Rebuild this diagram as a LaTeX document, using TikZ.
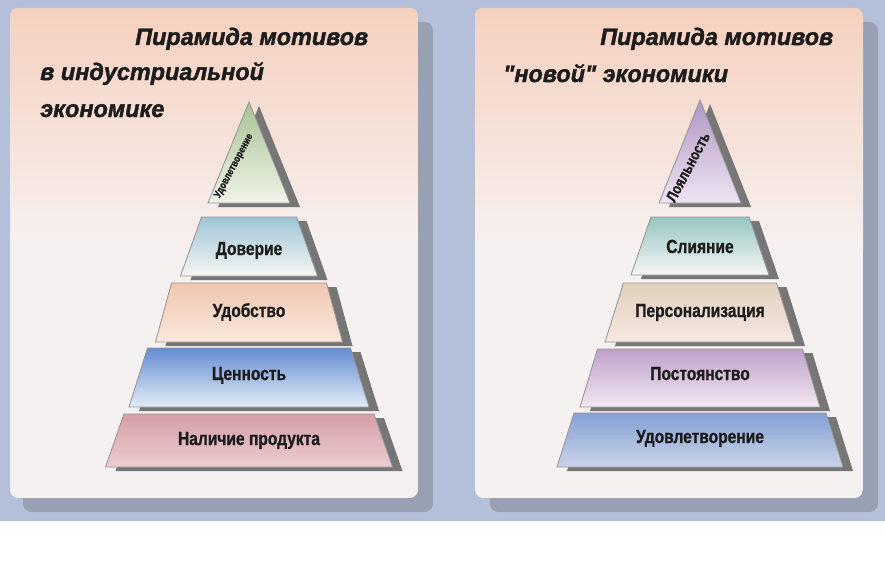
\documentclass[tikz,border=0pt]{standalone}
\usepackage{fontspec}
\newfontfamily\titlefont[FakeStretch=0.98, FakeBold=1.6]{Liberation Sans}
\newfontfamily\tierfont[FakeStretch=0.82, FakeBold=1]{Liberation Sans}
\usepackage{tikz}
\usetikzlibrary{calc}
\definecolor{PageBlue}{RGB}{180, 192, 218}
\definecolor{PanelShade}{RGB}{152, 160, 180}
\definecolor{PanelPeach}{RGB}{246, 208, 190}
\definecolor{PanelMid}{RGB}{248, 228, 218}
\definecolor{PanelWhite}{RGB}{246, 241, 241}
\definecolor{TierShade}{RGB}{118, 118, 118}
\definecolor{TierEdge}{RGB}{150, 150, 150}
\definecolor{Ink}{RGB}{28, 28, 28}
\definecolor{GreenTop}{RGB}{168, 194, 148}
\definecolor{GreenLow}{RGB}{240, 243, 232}
\definecolor{AquaTop}{RGB}{158, 198, 214}
\definecolor{AquaLow}{RGB}{246, 246, 242}
\definecolor{PeachTop}{RGB}{240, 198, 176}
\definecolor{PeachLow}{RGB}{249, 232, 222}
\definecolor{BlueTop}{RGB}{100, 140, 210}
\definecolor{BlueLow}{RGB}{226, 236, 246}
\definecolor{RoseTop}{RGB}{214, 158, 168}
\definecolor{RoseLow}{RGB}{236, 204, 208}
\definecolor{LilacTop}{RGB}{176, 150, 196}
\definecolor{LilacLow}{RGB}{238, 228, 242}
\definecolor{TealTop}{RGB}{150, 198, 192}
\definecolor{TealLow}{RGB}{246, 246, 246}
\definecolor{SandTop}{RGB}{224, 208, 188}
\definecolor{SandLow}{RGB}{246, 232, 226}
\definecolor{PlumTop}{RGB}{190, 160, 200}
\definecolor{PlumLow}{RGB}{242, 232, 242}
\definecolor{SkyTop}{RGB}{132, 160, 214}
\definecolor{SkyLow}{RGB}{202, 212, 232}
\tikzset{
  paneltitle/.style={anchor=base west, inner sep=0pt, text=Ink,
                     font=\titlefont\bfseries\itshape\fontsize{17}{20}\selectfont},
  tierlabel/.style={anchor=base, inner sep=0pt, text=Ink,
                    font=\tierfont\bfseries\fontsize{13.5}{16}\selectfont},
  apexlabel/.style={inner sep=0pt, text=Ink, rotate=62,
                    font=\tierfont\bfseries\fontsize{#1}{#1}\selectfont},
  tierface/.style={draw=TierEdge, line width=0.6pt},
  tiershadow/.style={fill=TierShade, shift={(10,4)}},
  panelshadow/.style={fill=PanelShade, rounded corners=6pt},
}
% one level of a pyramid: centre x, top y, bottom y, top and bottom half widths, colours
\newcommand{\pyrtier}[7]{%
  \fill[tiershadow] (#1-#4,#2) -- (#1+#4,#2) -- (#1+#5,#3) -- (#1-#5,#3) -- cycle;
  \shadedraw[tierface, top color=#6, bottom color=#7]
    (#1-#4,#2) -- (#1+#4,#2) -- (#1+#5,#3) -- (#1-#5,#3) -- cycle;
}
\begin{document}
\begin{tikzpicture}[x=0.025cm, y=-0.025cm]
  \useasboundingbox (0,0) rectangle (885,565);
  \fill[white] (0,0) rectangle (885,565);
  \fill[PageBlue] (0,0) rectangle (885,521);

  % panels
  \fill[panelshadow] (23,22) rectangle (433,512);
  \fill[panelshadow] (490,22) rectangle (878,512);
  \foreach \xa/\xb in {10/418, 475/863} {
    \begin{scope}
      \clip[rounded corners=6pt] (\xa,8) rectangle (\xb,498);
      \fill[PanelWhite] (\xa,8) rectangle (\xb,498);
      \shade[top color=PanelPeach, middle color=PanelMid, bottom color=PanelWhite]
        (\xa,8) rectangle (\xb,250);
    \end{scope}
  }

  % titles
  \node[paneltitle] (titleLa) at (135,45) {Пирамида мотивов};
  \node[paneltitle] (titleLb) at (40,80) {в индустриальной};
  \node[paneltitle] (titleLc) at (40,117) {экономике};
  \node[paneltitle] (titleRa) at (600,45) {Пирамида мотивов};
  \node[paneltitle] (titleRb) at (503,82) {"новой" экономики};

  % industrial pyramid
  \pyrtier{249}{102}{203}{0}{41}{GreenTop}{GreenLow}
  \pyrtier{249}{217}{276}{47.5}{68.5}{AquaTop}{AquaLow}
  \pyrtier{249}{283}{342}{77.5}{93.5}{PeachTop}{PeachLow}
  \pyrtier{249}{348}{407}{101.5}{120}{BlueTop}{BlueLow}
  \pyrtier{249}{414}{467}{125}{143.5}{RoseTop}{RoseLow}
  \node[apexlabel=7.5] (satisL) at (234,166) {Удовлетворение};
  \node[tierlabel] (trust) at (249,255) {Доверие};
  \node[tierlabel] (comfort) at (249,317) {Удобство};
  \node[tierlabel] (value) at (249,380) {Ценность};
  \node[tierlabel] (stock) at (249,445) {Наличие продукта};

  % new economy pyramid
  \pyrtier{700}{100}{203}{0}{41}{LilacTop}{LilacLow}
  \pyrtier{700}{217}{275}{49}{69}{TealTop}{TealLow}
  \pyrtier{700}{283}{342}{76.5}{95}{SandTop}{SandLow}
  \pyrtier{700}{349}{407}{102.5}{120}{PlumTop}{PlumLow}
  \pyrtier{700}{413}{467}{126}{143}{SkyTop}{SkyLow}
  \node[apexlabel=11] (loyal) at (688,167) {Лояльность};
  \node[tierlabel] (merge) at (700,253) {Слияние};
  \node[tierlabel] (person) at (700,317) {Персонализация};
  \node[tierlabel] (steady) at (700,380) {Постоянство};
  \node[tierlabel] (satisR) at (700,443) {Удовлетворение};
\end{tikzpicture}
\end{document}
